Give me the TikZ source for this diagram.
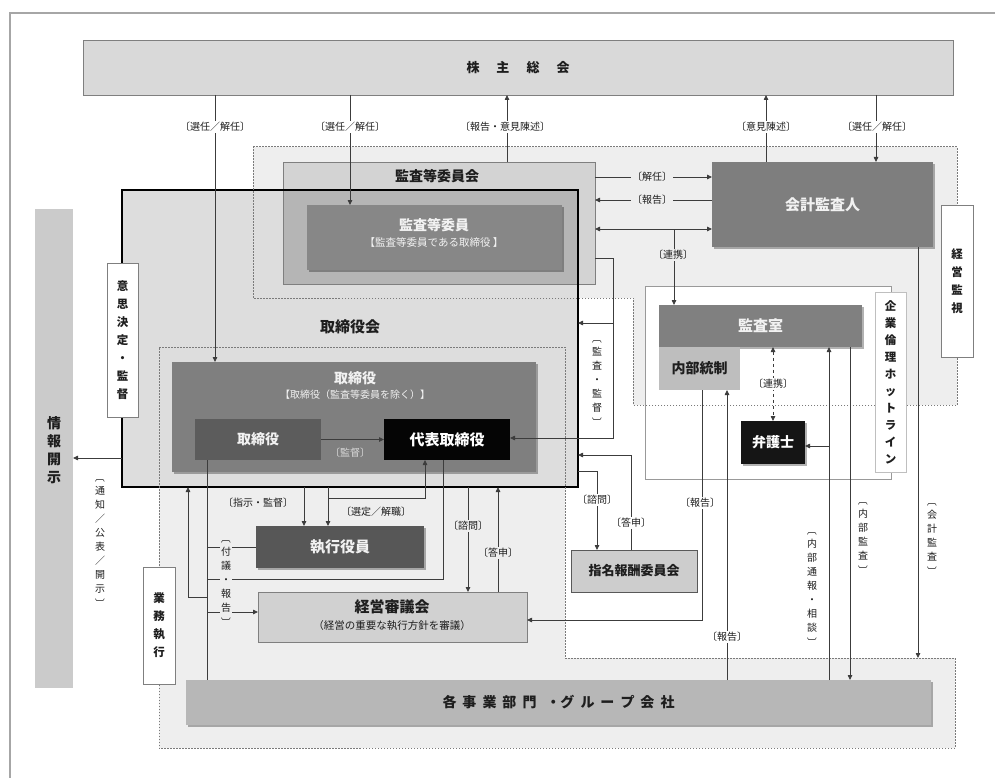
\documentclass[tikz,border=0pt]{standalone}
\usepackage{fontspec}
\setmainfont{Noto Sans CJK JP}
\usetikzlibrary{arrows.meta,shadows}
\definecolor{lineC}{HTML}{3C3C3C}
\definecolor{frameC}{HTML}{A6A6A6}
\definecolor{regC}{HTML}{EEEEEE}
\definecolor{dotC}{HTML}{7A7A7A}
\definecolor{edgeC}{HTML}{7F7F7F}
\definecolor{gmC}{HTML}{D9D9D9}
\definecolor{tbkC}{HTML}{DDDDDD}
\definecolor{kiinC}{HTML}{D3D3D3}
\definecolor{kiinInC}{HTML}{B5B5B5}
\definecolor{kiiC}{HTML}{878787}
\definecolor{tsbC}{HTML}{7F7F7F}
\definecolor{tsiC}{HTML}{5C5C5C}
\definecolor{daiC}{HTML}{050505}
\definecolor{skyC}{HTML}{575757}
\definecolor{kssC}{HTML}{D1D1D1}
\definecolor{shmC}{HTML}{CDCDCD}
\definecolor{kjbC}{HTML}{B7B7B7}
\definecolor{kaiC}{HTML}{7E7E7E}
\definecolor{ksC}{HTML}{808080}
\definecolor{naiC}{HTML}{BEBEBE}
\definecolor{benC}{HTML}{151515}
\definecolor{jkbC}{HTML}{CBCBCB}
\definecolor{txtC}{HTML}{1E1E1E}
\definecolor{ltxtC}{HTML}{F2F2F2}
\newcommand{\brO}{\rotatebox[origin=c]{-90}{〔}}
\newcommand{\brC}{\rotatebox[origin=c]{-90}{〕}}
\newcommand{\gp}[1]{\hspace{#1pt}}
\begin{document}
\begin{tikzpicture}[x=1pt,y=-1pt,
  every node/.style={inner sep=0pt,outer sep=0pt,text=txtC},
  bx/.style={draw=edgeC,line width=0.8pt,align=center},
  shd/.style={drop shadow={shadow xshift=2pt,shadow yshift=-2pt,opacity=0.3,fill=black}},
  conn/.style={draw=lineC,line width=0.8pt},
  arr/.style={conn,-{Triangle[length=5pt,width=4.5pt]}},
  darr/.style={conn,{Triangle[length=5pt,width=4.5pt]}-{Triangle[length=5pt,width=4.5pt]}},
  lab/.style={font=\fontsize{10}{11}\selectfont,inner sep=1.2pt,fill=white},
  vlab/.style={lab,align=center,font=\fontsize{10}{14}\selectfont},
  vbox/.style={draw=edgeC,line width=0.8pt,fill=white,align=center,font=\bfseries\fontsize{11.5}{18}\selectfont},
  dots/.style={draw=dotC,line width=1pt,dash pattern=on 1.5pt off 1.5pt},
  ttl/.style={font=\bfseries\fontsize{15}{17}\selectfont},
  wt/.style={text=ltxtC},
]
\useasboundingbox (0,0) rectangle (995,778);
% outer frame
\draw[frameC,line width=2pt] (10,778) -- (10,13) -- (995,13);
% region fills
\fill[regC] (253,147) -- (957,147) -- (957,405) -- (633,405) -- (633,298) -- (253,298) -- cycle;
\fill[regC] (159,347) -- (565,347) -- (565,658) -- (955,658) -- (955,748) -- (159,748) -- cycle;
% white frame of audit group
\node[draw=edgeC!80,line width=0.6pt,fill=white,minimum width=246pt,minimum height=193pt] (wfr) at (768,382.5) {};
% board of directors
\node[fill=tbkC,minimum width=456pt,minimum height=297pt] (tbk) at (350,338.5) {};
\node[fill=kiinC,minimum width=312pt,minimum height=122pt] (kiin) at (439,223) {};
\fill[kiinInC] (283,190) rectangle (578,284);
\draw[edgeC,line width=0.8pt] (kiin.north west) rectangle (kiin.south east);
\draw[black,line width=1.5pt] (tbk.north west) rectangle (tbk.south east);
\node[font=\bfseries\fontsize{14}{16}\selectfont] (kiinT) at (437,176) {監査等委員会};
\node[ttl] (tbkT) at (350,327) {取締役会};
% dotted regions
\draw[dots] (253,147) -- (957,147) -- (957,405) -- (633,405) -- (633,298) -- (253,298) -- cycle;
\draw[dots] (159,347) -- (565,347) -- (565,658) -- (955,658) -- (955,748) -- (159,748) -- cycle;
% boxes
\node[bx,fill=gmC,minimum width=870pt,minimum height=55pt,font=\bfseries\fontsize{13}{15}\selectfont] (gm) at (518,67.5) {株\gp{17}主\gp{17}総\gp{17}会};
\node[fill=kiiC,shd,minimum width=255pt,minimum height=65pt] (kii) at (434.5,237.5) {};
\node[wt,font=\bfseries\fontsize{14}{16}\selectfont] (kiiT) at (434,225) {監査等委員};
\node[wt,font=\fontsize{10.5}{12}\selectfont] (kiiS) at (434,243) {【監査等委員である取締役 】};
\node[fill=tsbC,shd,minimum width=364pt,minimum height=110pt] (tsb) at (354,417) {};
\node[wt,font=\bfseries\fontsize{14}{16}\selectfont] (tsbT) at (355,378) {取締役};
\node[wt,font=\fontsize{10}{12}\selectfont] (tsbS) at (355,395) {【取締役（監査等委員を除く）】};
\node[fill=tsiC,wt,minimum width=126pt,minimum height=41pt,font=\bfseries\fontsize{14}{16}\selectfont] (tsi) at (258,439.5) {取締役};
\node[fill=daiC,text=white,minimum width=126pt,minimum height=41pt,font=\bfseries\fontsize{15}{17}\selectfont] (dai) at (447,439.5) {代表取締役};
\node[fill=kaiC,shd,wt,minimum width=221pt,minimum height=85pt,font=\bfseries\fontsize{15}{17}\selectfont] (kai) at (822.5,204.5) {会計監査人};
\node[fill=ksC,shd,wt,minimum width=203pt,minimum height=42pt,font=\bfseries\fontsize{15}{17}\selectfont] (kss) at (760.5,326) {監査室};
\node[fill=naiC,minimum width=81pt,minimum height=43pt,font=\bfseries\fontsize{14}{16}\selectfont] (nai) at (699.5,368.5) {内部統制};
\node[fill=benC,shd,text=white,minimum width=64pt,minimum height=43pt,font=\bfseries\fontsize{14}{16}\selectfont] (ben) at (773,442.5) {弁護士};
\node[vbox,draw=edgeC!50,minimum width=31pt,minimum height=180pt,font=\bfseries\fontsize{11.5}{17}\selectfont] (hot) at (890.5,382) {企\\業\\倫\\理\\ホ\\ッ\\ト\\ラ\\イ\\ン};
\node[vbox,minimum width=32pt,minimum height=152pt] (kks) at (957,281) {経\\営\\監\\視};
\node[vbox,minimum width=31pt,minimum height=154pt] (ish) at (122.5,340) {意\\思\\決\\定\\・\\監\\督};
\node[vbox,minimum width=32pt,minimum height=117pt] (gym) at (159,625.5) {業\\務\\執\\行};
\node[fill=jkbC,minimum width=38pt,minimum height=479pt] (jkb) at (54,448.5) {};
\node[align=center,font=\bfseries\fontsize{14}{18}\selectfont] (jkbT) at (54,450) {情\\報\\開\\示};
\node[bx,draw=black!65,fill=shmC,minimum width=126pt,minimum height=42pt,font=\bfseries\fontsize{13}{15}\selectfont] (shm) at (634,571) {指名報酬委員会};
\node[fill=skyC,shd,wt,minimum width=168pt,minimum height=42pt,font=\bfseries\fontsize{15}{17}\selectfont] (sky) at (340,547) {執行役員};
\node[bx,fill=kssC,minimum width=269pt,minimum height=50pt] (kgs) at (392.5,617) {};
\node[ttl] (kgsT) at (392,607) {経営審議会};
\node[font=\fontsize{10.5}{12}\selectfont] (kgsS) at (392,626) {（経営の重要な執行方針を審議）};
\node[fill=kjbC,shd,minimum width=745pt,minimum height=45pt,font=\bfseries\fontsize{14}{16}\selectfont] (kjb) at (558.5,702.5) {各\gp{6}事\gp{6}業\gp{6}部\gp{6}門\gp{10}・グ\gp{6}ル\gp{6}ー\gp{6}プ\gp{6}会\gp{6}社};
% ---- connectors: shareholders
\draw[arr] (215,0 |- gm.south) -- (215,0 |- tsb.north);
\node[lab] (l1) at (215,127) {〔選任／解任〕};
\draw[arr] (350,0 |- gm.south) -- (350,0 |- kii.north);
\node[lab] (l2) at (350,127) {〔選任／解任〕};
\draw[arr] (507,0 |- kiin.north) -- (507,0 |- gm.south);
\node[lab] (l3) at (505,127) {〔報告・意見陳述〕};
\draw[arr] (766,0 |- kai.north) -- (766,0 |- gm.south);
\node[lab] (l4) at (766,127) {〔意見陳述〕};
\draw[arr] (876,0 |- gm.south) -- (876,0 |- kai.north);
\node[lab] (l5) at (877,127) {〔選任／解任〕};
% audit committee <-> accounting auditor
\draw[arr] (kiin.east |- 0,177) -- (kai.west |- 0,177);
\node[lab,fill=regC] (l6) at (652,177) {〔解任〕};
\draw[arr] (kai.west |- 0,200) -- (kiin.east |- 0,200);
\node[lab,fill=regC] (l7) at (652,200) {〔報告〕};
\draw[darr] (kiin.east |- 0,229) -- (kai.west |- 0,229);
\draw[arr] (674,229) -- (674,0 |- kss.north);
\node[lab,fill=regC] (l8) at (673,255) {〔連携〕};
% audit office group
\draw[darr,dashed] (773,0 |- kss.south) -- (773,0 |- ben.north);
\node[lab] (l9) at (773,384) {〔連携〕};
\draw[arr] (829,0 |- kjb.north) -- (829,0 |- kss.south);
\draw[arr] (829,446) -- (ben.east |- 0,446);
\node[vlab,fill=none] (l10) at (812,586) {\brO\\内\\部\\通\\報\\・\\相\\談\\\brC};
\draw[arr] (850,0 |- kss.south) -- (850,0 |- kjb.north);
\node[vlab,fill=none] (l11) at (863,535) {\brO\\内\\部\\監\\査\\\brC};
\draw[arr] (918,0 |- kai.south) -- (918,658);
\node[vlab,fill=none] (l12) at (932,536) {\brO\\会\\計\\監\\査\\\brC};
\draw[arr] (702,0 |- nai.south) -- (702,620) -- (kgs.east |- 0,620);
\node[lab] (l13) at (700,503) {〔報告〕};
\draw[arr] (727,0 |- kjb.north) -- (727,0 |- nai.south);
\node[lab] (l14) at (727,637) {〔報告〕};
% audit & supervision
\draw[arr] (kiin.east |- 0,258) -- (613,258) -- (613,438) -- (dai.east |- 0,438);
\draw[arr] (613,323) -- (tbk.east |- 0,323);
\node[vlab] (l15) at (597,380) {\brO\\監\\査\\・\\監\\督\\\brC};
% nomination committee
\draw[arr] (tbk.east |- 0,471) -- (597,471) -- (597,0 |- shm.north);
\node[lab] (l16) at (597,500) {〔諮問〕};
\draw[arr] (631,0 |- shm.north) -- (631,455) -- (tbk.east |- 0,455);
\node[lab] (l17) at (631,523) {〔答申〕};
% disclosure
\draw[arr] (tbk.west |- 0,458) -- (jkb.east |- 0,458);
\node[vlab,fill=none] (l18) at (100,540) {\brO\\通\\知\\／\\公\\表\\／\\開\\示\\\brC};
% inside board
\draw[arr] (tsi.east) -- (dai.west);
\node[lab,fill=none,text=black!15] (l19) at (350,453) {〔監督〕};
% executive officers
\draw[arr] (304,0 |- tbk.south) -- (304,0 |- sky.north);
\node[lab,fill=regC] (l20) at (258,503) {〔指示・監督〕};
\draw[arr] (328,0 |- tbk.south) -- (328,0 |- sky.north);
\draw[arr] (328,498) -- (425,498) -- (425,0 |- dai.south);
\node[lab,fill=regC] (l21) at (376,512) {〔選定／解職〕};
\draw[conn] (207,0 |- tsi.south) -- (207,0 |- kjb.north);
\draw[conn] (207,547) -- (sky.west |- 0,547);
\draw[conn] (207,579) -- (443,579) -- (443,0 |- dai.south);
\draw[arr] (207,597) -- (188,597) -- (188,0 |- tbk.south);
\draw[arr] (207,612) -- (kgs.west |- 0,612);
\node[vlab,fill=regC] (l22) at (226,580) {\brO\\付\\議\\・\\報\\告\\\brC};
% management council
\draw[arr] (468,0 |- tbk.south) -- (468,0 |- kgs.north);
\node[lab,fill=regC] (l23) at (468,526) {〔諮問〕};
\draw[arr] (498,0 |- kgs.north) -- (498,0 |- tbk.south);
\node[lab,fill=regC] (l24) at (498,553) {〔答申〕};
\end{tikzpicture}
\end{document}
